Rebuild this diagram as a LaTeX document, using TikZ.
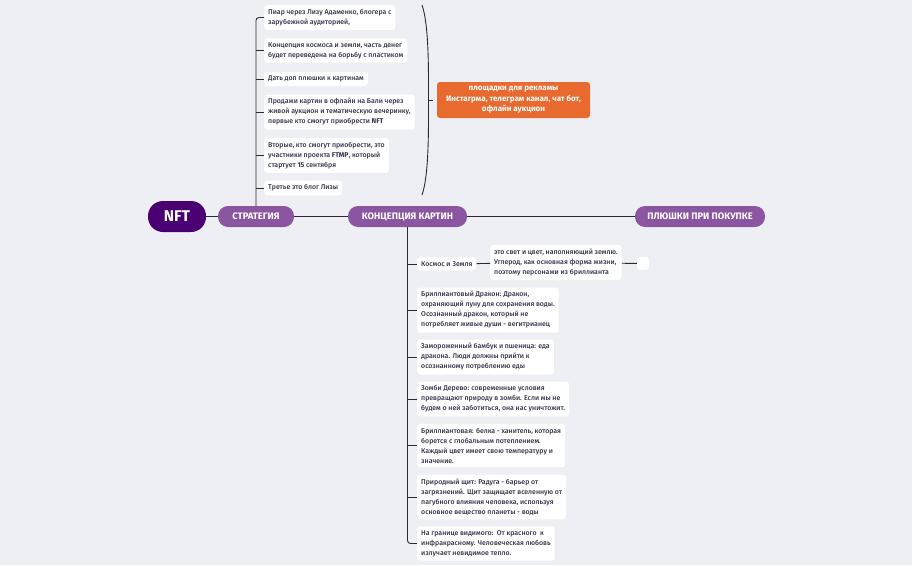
\documentclass[tikz,border=0pt]{standalone}
\usepackage{fontspec}
\setmainfont{Fira Sans}
\newfontfamily\medfont{Fira Sans Medium}
\newcommand\bt[1]{{\rmfamily\bfseries #1}}
\definecolor{bgc}{HTML}{EEEFF5}
\definecolor{nftc}{HTML}{4A0072}
\definecolor{pillc}{HTML}{8B56A1}
\definecolor{orangec}{HTML}{E86A2E}
\definecolor{linec}{HTML}{2B2B2B}
\definecolor{txtc}{HTML}{34344A}
\tikzset{
  conn/.style={draw=linec, line width=0.9pt},
  item/.style={fill=white, rounded corners=3pt, align=left, anchor=west,
    inner xsep=4pt, inner ysep=4pt, text=txtc,
    font=\medfont\fontsize{6.95}{10}\selectfont},
  pill/.style={fill=pillc, rounded corners=10pt, text=white,
    font=\fontsize{9.4}{11}\selectfont\bfseries, minimum height=21pt, inner sep=0pt},
}
\begin{document}
\begin{tikzpicture}[x=1pt,y=-1pt]
\useasboundingbox[fill=bgc] (0,0) rectangle (912,565);

% main row
\node[fill=nftc, rounded corners=15pt, minimum width=58pt, minimum height=31pt, inner sep=0pt,
  text=white, font=\fontsize{15.5}{17}\selectfont\bfseries] (nft) at (177,216.5) {NFT};
\node[pill, minimum width=76pt] (strat) at (256,216.5) {СТРАТЕГИЯ};
\node[pill, minimum width=119pt] (konc) at (407.5,216.5) {КОНЦЕПЦИЯ КАРТИН};
\node[pill, minimum width=130pt] (plus) at (700,216.5) {ПЛЮШКИ ПРИ ПОКУПКЕ};

\draw[conn] (nft) -- (strat);
\draw[conn] (strat) -- (konc);
\draw[conn] (konc) -- (plus);

% strategy items
\node[item] (s1) at (264,17.5) {Пиар через Лизу Адаменко, блогера с\\зарубежной аудиторией,};
\node[item] (s2) at (264,50.5) {Концепция космоса и земли, часть денег\\будет переведена на борьбу с пластиком};
\node[item] (s3) at (264,79) {Дать доп плюшки к картинам};
\node[item] (s4) at (264,112) {Продажи картин в офлайн на Бали через\\живой аукцион и тематическую вечеринку,\\первые кто смогут приобрести \bt{NFT}};
\node[item] (s5) at (264,155.5) {Вторые, кто смогут приобрести, это\\участники проекта \bt{FTMP}, который\\стартует \bt{15} сентября};
\node[item] (s6) at (264,188) {Третье это блог Лизы};

\draw[conn, rounded corners=3pt] (strat.north) |- (s1.west);
\foreach \n in {s2,s3,s4,s5,s6} \draw[conn] (strat.north |- \n.west) -- (\n.west);

% bracket and orange box
\coordinate (btop) at (422,5);
\coordinate (bmid) at (428.5,100);
\coordinate (bbot) at (422,195);
\draw[conn] (btop) .. controls (429,25) and (428.5,70) .. (bmid) .. controls (428.5,130) and (429,175) .. (bbot);
\draw[conn] (bmid) -- ++(4,0);
\node[fill=orangec, rounded corners=3pt, minimum width=153pt, minimum height=36pt, inner sep=2pt,
  text=white, align=center, font=\fontsize{8}{10.5}\selectfont\bfseries] (ads) at (513.5,100)
  {площадки для рекламы\\Инстагрма, телеграм канал, чат бот,\\офлайн аукцион};

% concept items
\node[item] (c1) at (417,264) {Космос и Земля};
\node[item] (c1a) at (490,262.5) {это свет и цвет, наполняющий землю.\\Углерод, как основная форма жизни,\\поэтому персонажи из бриллианта};
\node[fill=white, rounded corners=3pt, minimum width=12pt, minimum height=13pt, inner sep=0pt] (c1b) at (643,263.5) {};
\node[item] (c2) at (417,310) {Бриллиантовый Дракон: Дракон,\\охраняющий луну для сохранения воды.\\Осознанный дракон, который не\\потребляет живые души - вегитрианец};
\node[item] (c3) at (417,357) {Замороженный бамбук и пшеница: еда\\дракона. Люди должны прийти к\\осознанному потреблению еды};
\node[item] (c4) at (417,399) {Зомби Дерево: современные условия\\превращают природу в зомби. Если мы не\\будем о ней заботиться, она нас уничтожит.};
\node[item] (c5) at (417,445.5) {Бриллиантовая: белка - ханитель, которая\\борется с глобальным потеплением.\\Каждый цвет имеет свою температуру и\\значение.};
\node[item] (c6) at (417,497) {Природный щит: Радуга - барьер от\\загрязнений. Щит защищает вселенную от\\пагубного влияния человека, используя\\основное вещество планеты - воды};
\node[item] (c7) at (417,543.5) {На границе видимого:\ \ От красного\ \ к\\инфракрасному. Человеческая любовь\\излучает невидимое тепло.};

\draw[conn, rounded corners=3pt] (konc.south) |- (c7.west);
\foreach \n in {c1,c2,c3,c4,c5,c6} \draw[conn] (konc.south |- \n.west) -- (\n.west);
\draw[conn] (c1) -- (c1a);
\draw[conn] (c1a) -- (c1b);
\end{tikzpicture}
\end{document}
